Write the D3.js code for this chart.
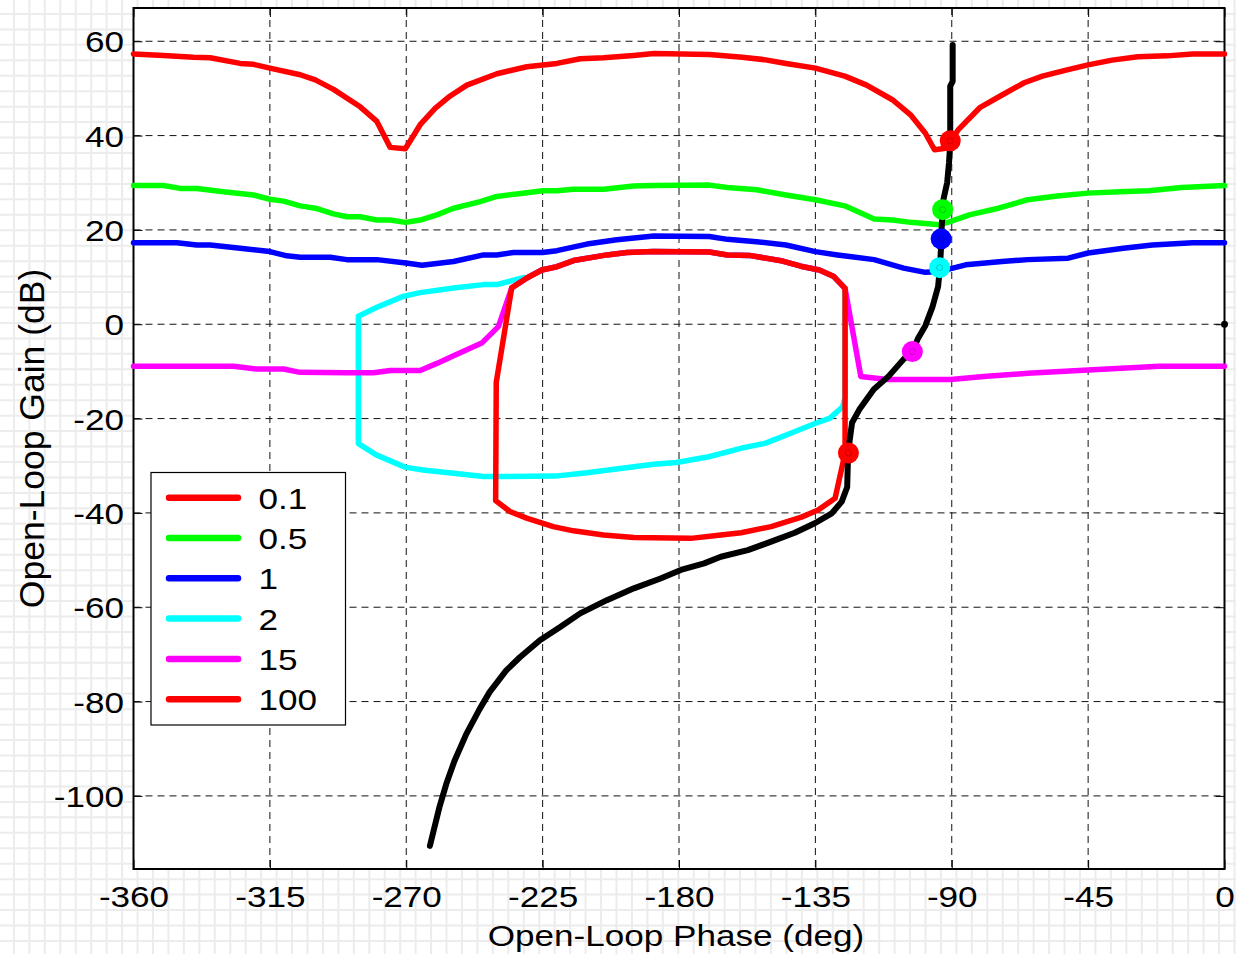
<!DOCTYPE html>
<html>
<head>
<meta charset="utf-8">
<script src="https://cdn.jsdelivr.net/npm/d3@7"></script>
<style>
  html, body { margin: 0; padding: 0; background: #fff; }
  svg { display: block; font-family: "Liberation Sans", Arial, sans-serif; }
</style>
</head>
<body>
<div id="chart"></div>
<script>
// frequencies of the bounds (legend labels) and their colours
const freqs = ['0.1', '0.5', '1', '2', '15', '100'];
const colors = ['#ff0000', '#00ff00', '#0000ff', '#00ffff', '#ff00ff', '#ff0000'];

const xTicks = [-360, -315, -270, -225, -180, -135, -90, -45, 0];
const yTicks = [-100, -80, -60, -40, -20, 0, 20, 40, 60];

// bound at w = 0.1  [phase deg, gain dB]
const bound01 = [
  [-360, 57.3], [-350.1, 57.0], [-340.2, 56.6], [-334.7, 56.5], [-324.8, 55.3], [-320.4, 55.1],
  [-315, 54.3], [-305, 52.9], [-300, 51.8], [-294, 49.8], [-285.2, 46.1], [-279.7, 43.0],
  [-275.3, 37.5], [-270.3, 37.2], [-265.4, 42.3], [-260.4, 45.8], [-255.5, 48.4], [-250, 50.7],
  [-240.1, 53.1], [-230.2, 54.6], [-220.3, 55.3], [-212.6, 56.3], [-204.9, 56.5], [-195, 57.0],
  [-188.3, 57.4], [-170, 57.2], [-159.2, 56.6], [-151.9, 56.1], [-144.7, 55.3], [-135, 54.3],
  [-125.3, 52.6], [-118.1, 50.7], [-109.6, 47.6], [-103.6, 44.4], [-98.7, 40.5], [-95.7, 37.0],
  [-92, 37.3], [-87.9, 41.2], [-80.6, 46.0], [-73.4, 48.6], [-66.1, 51.2], [-60.1, 52.6],
  [-51.6, 54.0], [-45, 55.0], [-37.1, 56.0], [-28.6, 56.7], [-19, 56.9], [-10.5, 57.3], [0, 57.3]
];

// bound at w = 0.5
const bound05 = [
  [-360, 29.4], [-350.1, 29.4], [-344.6, 28.8], [-339.1, 28.8], [-330.3, 28.1], [-320.4, 27.4],
  [-315, 26.5], [-310.5, 26.1], [-305, 25.1], [-300, 24.6], [-294, 23.4], [-289.6, 22.8],
  [-285.2, 22.8], [-279.7, 22.1], [-275.3, 22.1], [-270.3, 21.6], [-265.4, 22.1], [-259.9, 23.2],
  [-254.4, 24.6], [-245.6, 26.0], [-240.1, 27.1], [-230.2, 27.9], [-225, 28.3], [-220.3, 28.3],
  [-214.8, 28.6], [-204.9, 28.6], [-195, 29.3], [-188.3, 29.4], [-170, 29.5], [-164, 29.0],
  [-154.4, 28.5], [-144.7, 27.4], [-135, 26.4], [-125.3, 25.1], [-115.6, 22.3], [-109.6, 22.1],
  [-103.6, 21.6], [-93.9, 21.1], [-90.3, 21.8], [-84.2, 23.2], [-74.6, 24.6], [-64.9, 26.4],
  [-55.2, 27.2], [-45, 27.8], [-34.7, 28.1], [-25, 28.3], [-14.1, 29.0], [0, 29.4]
];

// bound at w = 1
const bound1 = [
  [-360, 17.3], [-345.7, 17.3], [-339.1, 16.8], [-334.7, 16.8], [-324.8, 16.1], [-315, 15.4],
  [-309.4, 14.5], [-305, 14.2], [-295.1, 14.2], [-289.6, 13.7], [-279.7, 13.7], [-270.1, 13.0],
  [-264.8, 12.5], [-254.4, 13.3], [-244.5, 14.7], [-240.1, 14.7], [-234.6, 15.2], [-225, 15.2],
  [-220.3, 15.6], [-210.4, 17.0], [-200.5, 17.9], [-188.3, 18.7], [-170, 18.6], [-164, 18.0],
  [-154.4, 17.5], [-144.7, 16.8], [-135, 15.4], [-127.7, 14.7], [-115.6, 13.7], [-105.9, 11.9],
  [-98.7, 11.0], [-93.9, 11.2], [-85.4, 12.6], [-73.4, 13.3], [-64.9, 13.7], [-51.6, 14.0],
  [-45, 15.1], [-33.4, 16.1], [-23.8, 16.8], [-10.5, 17.3], [0, 17.3]
];

// bound at w = 2 (closed; its top runs under the w = 100 bound)
const bound2 = [
  [-285.8, 1.7], [-279.7, 3.6], [-271, 5.9], [-265.4, 6.7], [-254.4, 7.7], [-244.5, 8.4],
  [-240.1, 8.4], [-231.3, 9.9], [-230.2, 9.8], [-225.3, 11.5], [-220.3, 12.2], [-214.8, 13.5],
  [-203.8, 14.7], [-197.2, 15.2], [-188.4, 15.4], [-170, 15.3], [-164, 14.7], [-156.7, 14.6],
  [-145.8, 13.4], [-139.8, 12.3], [-133.7, 11.5], [-128.9, 10.1], [-125.2, 7.6],
  [-125.2, -15.5], [-126, -17.5], [-130.2, -19.9], [-134.9, -21.0], [-141.9, -22.8],
  [-151.4, -25.2], [-159.6, -26.3], [-170.2, -28.1], [-180.9, -29.3], [-188.4, -29.7],
  [-210.4, -31.5], [-220.9, -32.2], [-244.5, -32.3], [-254.4, -31.6], [-264.5, -30.9],
  [-270.4, -30.3], [-279.9, -27.7], [-285.8, -25.3], [-285.8, 1.7]
];

// bound at w = 15 (middle part runs under the w = 100 bound)
const bound15 = [
  [-360, -8.9], [-327, -8.9], [-319.3, -9.5], [-310.5, -9.5], [-305, -10.2], [-289.6, -10.3],
  [-280.8, -10.3], [-275.3, -9.8], [-265.4, -9.8], [-259.9, -8.3], [-254.4, -6.7], [-250, -5.4],
  [-245.1, -4.0], [-239.6, -0.5], [-235.2, 7.7], [-230.2, 9.8], [-225.3, 11.5], [-220.3, 12.2],
  [-214.8, 13.5], [-203.8, 14.7], [-197.2, 15.2], [-188.4, 15.4], [-170, 15.3], [-164, 14.7],
  [-156.7, 14.6], [-145.8, 13.4], [-139.8, 12.3], [-133.7, 11.5], [-128.9, 10.1], [-125.2, 7.6],
  [-120, -11.1], [-111.2, -11.7], [-90.3, -11.7], [-79.5, -11.1], [-64.9, -10.4], [-45, -9.7],
  [-21.4, -8.9], [0, -8.9]
];

// bound at w = 100 (closed)
const bound100 = [
  [-240.3, -12.3], [-235.2, 7.7], [-230.2, 9.8], [-225.3, 11.5], [-220.3, 12.2], [-214.8, 13.5],
  [-203.8, 14.7], [-197.2, 15.2], [-188.4, 15.4], [-170, 15.3], [-164, 14.7], [-156.7, 14.6],
  [-145.8, 13.4], [-139.8, 12.3], [-133.7, 11.5], [-128.9, 10.1], [-125.2, 7.6], [-125.2, -27.3],
  [-128.5, -36.9], [-134.1, -39.4], [-139.6, -40.9], [-149.6, -42.9], [-159.5, -44.2],
  [-166.2, -44.7], [-176.1, -45.4], [-194.9, -45.2], [-204.9, -44.7], [-214.8, -43.8],
  [-221.5, -42.9], [-230.3, -41.1], [-235.8, -39.7], [-240.5, -37.4], [-240.3, -12.3]
];

// nominal open loop L(jw)
const openLoop = [
  [-89.7, 59.2], [-89.7, 51.5], [-90.5, 50.5], [-90.5, 38.4], [-90.9, 34.3], [-91.5, 30.1],
  [-92.7, 26.6], [-92.9, 24.2], [-93.3, 21.0], [-93.4, 17.9], [-93.9, 12.0], [-94.5, 8.0],
  [-96.3, 3.8], [-98.7, -0.3], [-101.2, -3.1], [-103, -5.8], [-106, -7.5], [-110.8, -11.0],
  [-115.7, -13.8], [-120.5, -18.1], [-122.9, -20.9], [-124.2, -27.1], [-124.5, -34.5],
  [-126.3, -37.6], [-129.6, -40.1], [-135.2, -42.2], [-141.8, -44.2], [-149.6, -46.1],
  [-157.3, -47.9], [-166.2, -49.3], [-171.7, -50.7], [-179.4, -52.1], [-186.1, -53.9],
  [-194.9, -56.0], [-203.8, -58.5], [-212.6, -61.3], [-219.2, -64.2], [-225.9, -67.0],
  [-232.5, -70.6], [-237, -73.4], [-242.5, -78.0], [-245.8, -81.6], [-250.2, -86.9],
  [-254.1, -92.6], [-256.8, -97.5], [-259.1, -102.5], [-262.2, -110.6]
];

// L(jw) at the bound frequencies
const markerPts = [
  [-90.5, 38.9], [-93.0, 24.3], [-93.5, 18.1], [-94.0, 12.0], [-103.0, -5.8], [-124.1, -27.3]
];

const bounds = [bound01, bound05, bound1, bound2, bound15, bound100];

const width = 1236;
const height = 954;
const plot = {left: 133.5, right: 1224.5, top: 8, bottom: 869};
const sx = 1.19; // the source font renders wide

const x = d3.scaleLinear().domain([-360, 0]).range([plot.left, plot.right]);
const y = d3.scaleLinear().domain([-115.5, 67.05]).range([plot.bottom, plot.top]);

const svg = d3.select('#chart').append('svg')
  .attr('width', width)
  .attr('height', height);

// faint background grid outside the axes
const bg = svg.append('g').attr('stroke', '#ececec').attr('stroke-width', 2);
for (let v = -1.5; v < width; v += 15.45) {
  bg.append('line').attr('x1', v).attr('x2', v).attr('y1', 0).attr('y2', height);
}
for (let v = -1.5; v < height; v += 15.45) {
  bg.append('line').attr('y1', v).attr('y2', v).attr('x1', 0).attr('x2', width);
}

svg.append('rect')
  .attr('x', plot.left).attr('y', plot.top)
  .attr('width', plot.right - plot.left).attr('height', plot.bottom - plot.top)
  .attr('fill', '#fff');

// grid
const grid = svg.append('g')
  .attr('stroke', '#111')
  .attr('stroke-width', 1)
  .attr('stroke-dasharray', '7,5');
grid.selectAll('.gx')
  .data(xTicks.filter(d => d > -360 && d < 0))
  .join('line')
  .attr('x1', d => x(d)).attr('x2', d => x(d))
  .attr('y1', plot.top).attr('y2', plot.bottom);
grid.selectAll('.gy')
  .data(yTicks)
  .join('line')
  .attr('y1', d => y(d)).attr('y2', d => y(d))
  .attr('x1', plot.left).attr('x2', plot.right);

// axes (ticks inside, matlab style)
const xAxis = svg.append('g')
  .attr('transform', `translate(0,${plot.bottom})`)
  .call(d3.axisBottom(x).tickValues(xTicks).tickSizeInner(-9).tickSizeOuter(0).tickFormat(''));
const yAxis = svg.append('g')
  .attr('transform', `translate(${plot.left},0)`)
  .call(d3.axisLeft(y).tickValues(yTicks).tickSizeInner(-9).tickSizeOuter(0).tickFormat(''));
svg.append('g')
  .attr('transform', `translate(0,${plot.top})`)
  .call(d3.axisTop(x).tickValues(xTicks).tickSizeInner(-9).tickSizeOuter(0).tickFormat(''));
svg.append('g')
  .attr('transform', `translate(${plot.right},0)`)
  .call(d3.axisRight(y).tickValues(yTicks).tickSizeInner(-9).tickSizeOuter(0).tickFormat(''));
svg.selectAll('.domain').remove();
svg.selectAll('.tick line').attr('stroke', '#000').attr('stroke-width', 1);

svg.append('rect')
  .attr('x', plot.left).attr('y', plot.top)
  .attr('width', plot.right - plot.left).attr('height', plot.bottom - plot.top)
  .attr('fill', 'none').attr('stroke', '#000').attr('stroke-width', 2);

// tick labels
xAxis.selectAll('.tick').append('text')
  .attr('transform', `translate(0,37.7) scale(${sx},1)`)
  .attr('text-anchor', 'middle')
  .attr('fill', '#000')
  .attr('font-size', 29.5)
  .text(d => d);
yAxis.selectAll('.tick').append('text')
  .attr('transform', `translate(-9.5,10.5) scale(${sx},1)`)
  .attr('text-anchor', 'end')
  .attr('fill', '#000')
  .attr('font-size', 29.5)
  .text(d => d);

svg.append('text')
  .attr('transform', `translate(${(plot.left + plot.right) / 2 - 3},946) scale(${sx},1)`)
  .attr('text-anchor', 'middle')
  .attr('font-size', 29.5)
  .text('Open-Loop Phase (deg)');
svg.append('text')
  .attr('transform', `translate(43.5,${(plot.top + plot.bottom) / 2}) rotate(-90)`)
  .attr('text-anchor', 'middle')
  .attr('font-size', 35.5)
  .text('Open-Loop Gain (dB)');

// curves
const line = d3.line().x(d => x(d[0])).y(d => y(d[1]));
const curves = svg.append('g')
  .attr('fill', 'none')
  .attr('stroke-linejoin', 'round')
  .attr('stroke-linecap', 'round');
curves.selectAll('path.bound')
  .data(bounds)
  .join('path')
  .attr('class', 'bound')
  .attr('d', line)
  .attr('stroke', (d, i) => colors[i])
  .attr('stroke-width', 5.5);
curves.append('path')
  .attr('d', line(openLoop))
  .attr('stroke', '#000')
  .attr('stroke-width', 6);

// markers on L(jw)
const marks = svg.append('g');
marks.selectAll('circle.big')
  .data(markerPts)
  .join('circle')
  .attr('class', 'big')
  .attr('cx', d => x(d[0])).attr('cy', d => y(d[1]))
  .attr('r', 10.5)
  .attr('fill', (d, i) => colors[i]);
marks.selectAll('circle.small')
  .data(markerPts)
  .join('circle')
  .attr('class', 'small')
  .attr('cx', d => x(d[0])).attr('cy', d => y(d[1]))
  .attr('r', 3)
  .attr('fill', 'none')
  .attr('stroke', 'rgba(0,0,0,0.25)')
  .attr('stroke-width', 0.8);
// critical point marker at (0 deg, 0 dB)
marks.append('circle')
  .attr('cx', x(0)).attr('cy', y(0))
  .attr('r', 3.5)
  .attr('fill', '#000');

// legend
const legend = svg.append('g').attr('transform', 'translate(151,472.5)');
legend.append('rect')
  .attr('width', 194.5).attr('height', 252.5)
  .attr('fill', '#fff').attr('stroke', '#000').attr('stroke-width', 1.2);
const item = legend.selectAll('g.item')
  .data(freqs)
  .join('g')
  .attr('class', 'item')
  .attr('transform', (d, i) => `translate(0,${25.2 + i * 40.3})`);
item.append('line')
  .attr('x1', 18).attr('x2', 87)
  .attr('stroke', (d, i) => colors[i])
  .attr('stroke-width', 6.5)
  .attr('stroke-linecap', 'round');
item.append('text')
  .attr('transform', `translate(107.5,11) scale(${sx},1)`)
  .attr('font-size', 29.5)
  .text(d => d);
</script>
</body>
</html>
